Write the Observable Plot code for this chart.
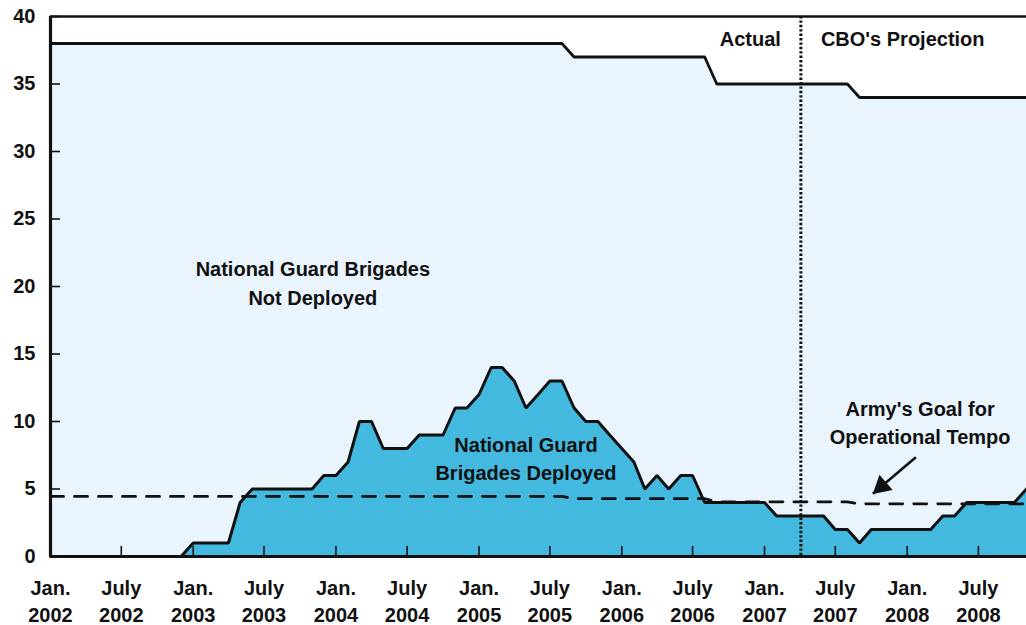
<!DOCTYPE html>
<html><head><meta charset="utf-8">
<script src="https://cdn.jsdelivr.net/npm/d3@7"></script>
<script src="https://cdn.jsdelivr.net/npm/@observablehq/plot@0.6"></script>
<style>
body{margin:0;background:#fff;}
#chart svg{display:block;}
#chart svg text{font-weight:bold;}
</style></head><body><div id="chart"></div>
<script>
// ---- data ----
const startMonth = "2002-01-01";
const deployed = [
  0,0,0,0,0,0,0,0,0,0,0,0,          // 2002
  1,1,1,1,4,5,5,5,5,5,5,6,          // 2003
  6,7,10,10,8,8,8,9,9,9,11,11,      // 2004
  12,14,14,13,11,12,13,13,11,10,10,9, // 2005
  8,7,5,6,5,6,6,4,4,4,4,4,          // 2006
  4,3,3,3,3,3,2,2,1,2,2,2,          // 2007
  2,2,2,3,3,4,4,4,4,4,5             // 2008 (Jan-Nov)
];
const totalDates  = ["2002-01-01","2005-08-01","2005-09-01","2006-08-01","2006-09-01","2007-08-01","2007-09-01","2008-11-01"];
const totalValues = [38,38,37,37,35,35,34,34];
const goalValues  = [4.45,4.45,4.28,4.28,4.05,4.05,3.9,3.9];
const dividerDate = "2007-04-04";
const yTicks = [0,5,10,15,20,25,30,35,40];
const xTickDates = ["2002-01-01","2002-07-01","2003-01-01","2003-07-01","2004-01-01","2004-07-01","2005-01-01","2005-07-01","2006-01-01","2006-07-01","2007-01-01","2007-07-01","2008-01-01","2008-07-01"];
const monthLabels = {0:"Jan.", 6:"July"};
const labels = [
  {date:"2003-11-03", value:20.4, text:"National Guard Brigades\nNot Deployed", lh:1.45},
  {date:"2005-05-01", value:7.37, text:"National Guard\nBrigades Deployed", lh:1.4},
  {date:"2008-02-03", value:10.0, text:"Army's Goal for\nOperational Tempo", lh:1.4}
];
const arrowFrom = {date:"2008-01-23", value:7.36};
const arrowTo   = {date:"2007-10-05", value:4.64};

// ---- build tables ----
const start = new Date(startMonth);
const depData = deployed.map((v,i)=>({date:d3.utcMonth.offset(start,i), value:v}));
const totalData = totalDates.map((d,i)=>({date:new Date(d), value:totalValues[i]}));
const goalData = totalDates.map((d,i)=>({date:new Date(d), value:goalValues[i]}));
const lab = labels.map(d=>({...d, date:new Date(d.date)}));
const divider = new Date(dividerDate);
const x0 = new Date(startMonth), x1 = new Date(totalDates[totalDates.length-1]);

const light = "#e9f4fd", dark = "#44b9e0", ink = "#111";

const labelMarks = lab.map(d => Plot.text([d],{x:"date", y:"value", text:"text", lineHeight:d.lh, fill:ink, fontSize:20, textAnchor:"middle", lineAnchor:"middle"}));

const chart = Plot.plot({
  width:1026, height:625,
  marginLeft:50, marginRight:0, marginTop:16, marginBottom:69,
  style:{fontFamily:"'Liberation Sans', Arial, sans-serif", fontSize:"20px", color:ink, background:"#fff"},
  x:{type:"utc", domain:[x0,x1], label:null},
  y:{domain:[0,40], label:null},
  marks:[
    Plot.areaY(totalData,{x:"date", y:"value", fill:light}),
    Plot.areaY(depData,{x:"date", y:"value", fill:dark}),
    Plot.axisX({ticks:xTickDates.map(d=>new Date(d)), tickSize:-10, tickPadding:29, strokeWidth:1.6, stroke:ink,
      lineHeight:1.35, fill:ink, label:null,
      tickFormat:d=>monthLabels[d.getUTCMonth()]+"\n"+d.getUTCFullYear()}),
    Plot.axisY({ticks:yTicks, tickSize:-10, tickPadding:25, strokeWidth:1.6, stroke:ink, fill:ink, label:null, tickFormat:d=>String(d)}),
    Plot.lineY(depData,{x:"date", y:"value", stroke:ink, strokeWidth:3, strokeLinejoin:"miter"}),
    Plot.lineY(totalData,{x:"date", y:"value", stroke:ink, strokeWidth:2.8}),
    Plot.lineY(goalData,{x:"date", y:"value", stroke:ink, strokeWidth:2.8, strokeDasharray:"13,11"}),
    Plot.ruleX([divider],{stroke:ink, strokeWidth:3, strokeDasharray:"2.4,2"}),
    Plot.ruleY([40],{stroke:ink, strokeWidth:2.4}),
    Plot.ruleY([0],{stroke:ink, strokeWidth:3.2}),
    Plot.ruleX([x0],{stroke:ink, strokeWidth:3.2}),
    ...labelMarks,
    Plot.text(["Actual"],{x:()=>divider, y:38.3, text:d=>d, dx:-20, textAnchor:"end", fill:ink, fontSize:20}),
    Plot.text(["CBO's Projection"],{x:()=>divider, y:38.3, text:d=>d, dx:20, textAnchor:"start", fill:ink, fontSize:20}),
    Plot.link([0],{x1:()=>new Date(arrowFrom.date), y1:arrowFrom.value, x2:()=>new Date(arrowTo.date), y2:arrowTo.value, stroke:ink, strokeWidth:2.6}),
    Plot.dot([0],{x:()=>new Date(arrowTo.date), y:arrowTo.value, symbol:"triangle", r:7.5, rotate:229, dx:8.8, dy:-7.6, fill:ink, stroke:"none"})
  ]
});
document.getElementById("chart").append(chart);
</script></body></html>
